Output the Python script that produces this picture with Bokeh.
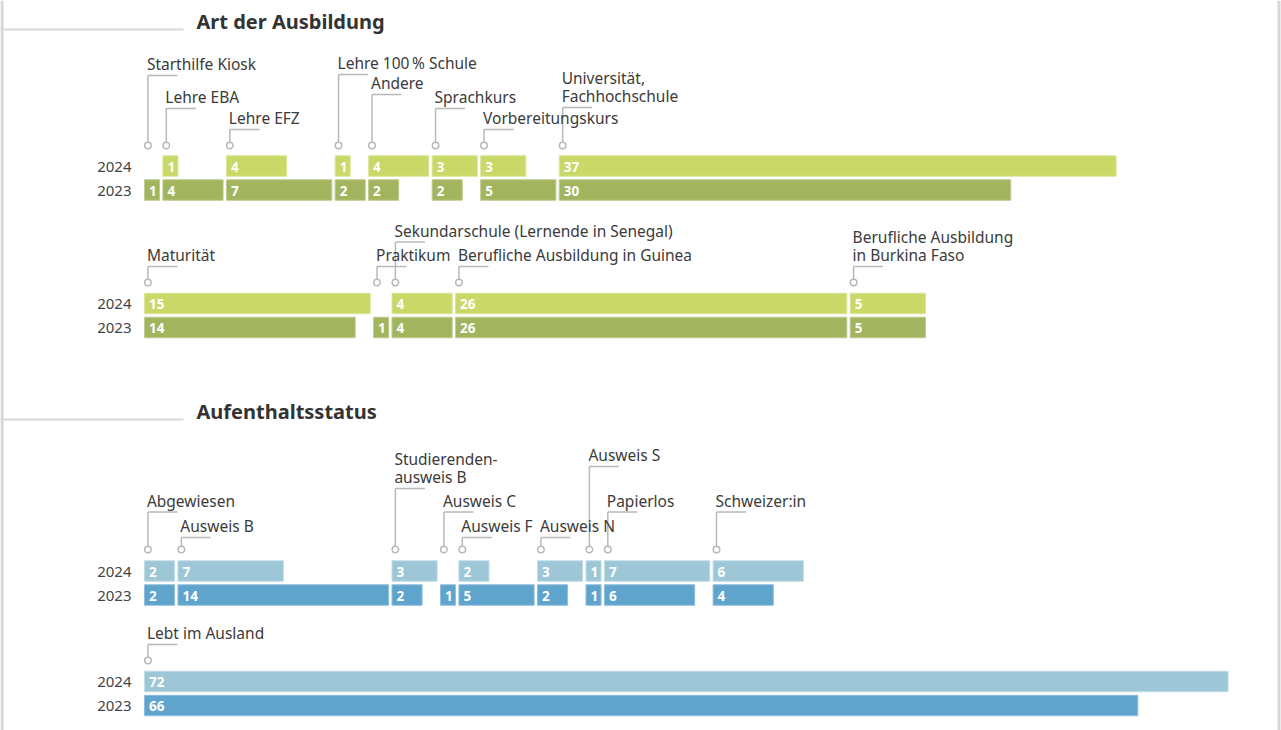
from bokeh.plotting import figure
from bokeh.models import ColumnDataSource, Range1d
from bokeh.embed import file_html
from bokeh.resources import INLINE
from bokeh.core.properties import value

# ---------------- data ----------------
years = ["2024", "2023"]

ausbildung_1_cats = ["Starthilfe Kiosk", "Lehre EBA", "Lehre EFZ", "Lehre 100\u2009% Schule", "Andere",
                     "Sprachkurs", "Vorbereitungskurs", "Universität,\nFachhochschule"]
ausbildung_1_2024 = [0, 1, 4, 1, 4, 3, 3, 37]
ausbildung_1_2023 = [1, 4, 7, 2, 2, 2, 5, 30]

ausbildung_2_cats = ["Maturität", "Praktikum", "Sekundarschule (Lernende in Senegal)",
                     "Berufliche Ausbildung in Guinea", "Berufliche Ausbildung\nin Burkina Faso"]
ausbildung_2_2024 = [15, 0, 4, 26, 5]
ausbildung_2_2023 = [14, 1, 4, 26, 5]

status_1_cats = ["Abgewiesen", "Ausweis B", "Studierenden-\nausweis B", "Ausweis C", "Ausweis F",
                 "Ausweis N", "Ausweis S", "Papierlos", "Schweizer:in"]
status_1_2024 = [2, 7, 3, 0, 2, 3, 1, 7, 6]
status_1_2023 = [2, 14, 2, 1, 5, 2, 1, 6, 4]

status_2_cats = ["Lebt im Ausland"]
status_2_2024 = [72]
status_2_2023 = [66]

section_titles = ["Art der Ausbildung", "Aufenthaltsstatus"]

# ---------------- layout / style ----------------
W, H = 1281, 730
UNIT = 15.05      # px per person
X0 = 144          # page px where the bars start
GAP = 3.35        # px between columns
BAR_H = 20.5
FONT = "Noto Sans"
GREEN = ("#c9d866", "#a3b45f")
BLUE = ("#9dc6d6", "#5fa4cd")
GREY = "#b4baba"
TXT = "#3b3b3b"

rows = [
    dict(cats=ausbildung_1_cats, v=(ausbildung_1_2024, ausbildung_1_2023), col=GREEN,
         circle_y=145, bar_y=165.5, elbow=[75, 108, 129, 74, 94, 108, 129, 107]),
    dict(cats=ausbildung_2_cats, v=(ausbildung_2_2024, ausbildung_2_2023), col=GREEN,
         circle_y=282, bar_y=303, elbow=[266, 266, 241.5, 266, 266]),
    dict(cats=status_1_cats, v=(status_1_2024, status_1_2023), col=BLUE,
         circle_y=549, bar_y=570.5, elbow=[511.5, 537, 488, 511.5, 537, 537, 466, 511.5, 511.5]),
    dict(cats=status_2_cats, v=(status_2_2024, status_2_2023), col=BLUE,
         circle_y=660, bar_y=681, elbow=[644]),
]
title_line_y = [29, 419]
title_text_y = [21, 411]


def px(d):
    return d / UNIT


p = figure(width=W, height=H, x_range=Range1d(px(-X0), px(W - X0)),
           y_range=Range1d(H, 0),
           output_backend="svg", toolbar_location=None, min_border=0,
           x_axis_type=None, y_axis_type=None, outline_line_color=None,
           background_fill_color="white", border_fill_color="white")
p.xgrid.visible = False
p.ygrid.visible = False

# page borders and titles
p.segment(x0=[px(1.5 - X0), px(1278.5 - X0)], y0=[0, 0], x1=[px(1.5 - X0), px(1278.5 - X0)],
          y1=[H, H], line_color="#d6d6d6", line_width=3)
p.segment(x0=[px(-X0)] * 2, y0=title_line_y, x1=[px(183 - X0)] * 2, y1=title_line_y,
          line_color="#d5d9d9", line_width=2)
p.text(x=[px(196 - X0)] * 2, y=title_text_y, text=section_titles,
       text_font=value(FONT), text_font_size="20px", text_font_style="bold",
       text_color="#333333", text_baseline="middle", text_align="left")

bars = dict(left=[], right=[], y=[], color=[], line=[])
vals = dict(x=[], y=[], text=[])
yrs = dict(x=[], y=[], text=[])
lead_v = dict(x0=[], y0=[], x1=[], y1=[])
lead_h = dict(x0=[], y0=[], x1=[], y1=[])
circ = dict(x=[], y=[])
labs = dict(x=[], y=[], text=[])
light_line = {"#c9d866": "#dbe69a", "#a3b45f": "#bfcb8f", "#9dc6d6": "#c2dce6", "#5fa4cd": "#8fbfdc"}

for r in rows:
    v24, v23 = r["v"]
    cum = 0.0
    for i, cat in enumerate(r["cats"]):
        start = cum + px(GAP) * i
        for k, series in enumerate((v24, v23)):
            val = series[i]
            if val > 0:
                yc = r["bar_y"] + 24 * k
                bars["left"].append(start)
                bars["right"].append(start + val)
                bars["y"].append(yc)
                bars["color"].append(r["col"][k])
                bars["line"].append(light_line[r["col"][k]])
                vals["x"].append(start + px(4.5))
                vals["y"].append(yc + 0.5)
                vals["text"].append(str(val))
        mx = start + px(3.4)
        ey = r["elbow"][i]
        lead_v["x0"].append(mx); lead_v["x1"].append(mx)
        lead_v["y0"].append(ey); lead_v["y1"].append(r["circle_y"] - 3)
        lead_h["x0"].append(mx); lead_h["x1"].append(mx + px(29.5))
        lead_h["y0"].append(ey); lead_h["y1"].append(ey)
        circ["x"].append(mx); circ["y"].append(r["circle_y"])
        lines = cat.split("\n")
        for j, ln in enumerate(lines):
            labs["x"].append(mx - px(1))
            labs["y"].append(ey - 11.5 - 18.5 * (len(lines) - 1 - j))
            labs["text"].append(ln)
        cum += max(v24[i], v23[i])
    for k, yr in enumerate(years):
        yrs["x"].append(px(131 - X0))
        yrs["y"].append(r["bar_y"] + 24 * k + 0.5)
        yrs["text"].append(yr)

p.hbar(y="y", left="left", right="right", height=BAR_H, fill_color="color", line_color="line",
       line_width=1, source=ColumnDataSource(bars))
p.text(x="x", y="y", text="text", source=ColumnDataSource(vals), text_font=value(FONT),
       text_font_size="13.5px", text_font_style="bold", text_color="white",
       text_baseline="middle", text_align="left")
p.text(x="x", y="y", text="text", source=ColumnDataSource(yrs), text_font=value(FONT),
       text_font_size="15px", text_color="#444444", text_baseline="middle", text_align="right")
p.segment(x0="x0", y0="y0", x1="x1", y1="y1", source=ColumnDataSource(lead_v),
          line_color=GREY, line_width=1.5)
p.segment(x0="x0", y0="y0", x1="x1", y1="y1", source=ColumnDataSource(lead_h),
          line_color=GREY, line_width=1.5)
p.scatter(x="x", y="y", source=ColumnDataSource(circ), marker="circle", size=6.5,
          fill_color="white", line_color=GREY, line_width=1.5)
p.text(x="x", y="y", text="text", source=ColumnDataSource(labs), text_font=value(FONT),
       text_font_size="15.5px", text_color=TXT, text_baseline="middle", text_align="left")

open("out.html", "w").write(file_html(p, INLINE))
